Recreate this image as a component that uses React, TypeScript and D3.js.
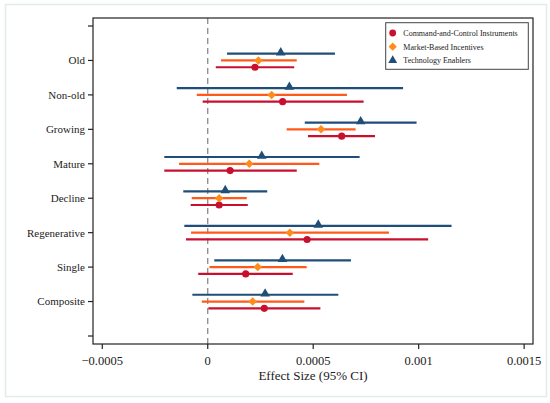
import React from "react";
import * as d3 from "d3";

const width = 550;
const height = 403;
const margin = { top: 18, right: 17, bottom: 59, left: 93 };

// categories from top to bottom
const categories = ["Old", "Non-old", "Growing", "Mature", "Decline", "Regenerative", "Single", "Composite"];

// point estimates and 95% CI per series
const cciEst = [0.000224, 0.000355, 0.000635, 0.000106, 0.000054, 0.000471, 0.00018, 0.000268];
const cciLo = [0.000038, -0.000024, 0.000475, -0.000206, -0.000081, -0.000103, -0.000045, 0.000003];
const cciHi = [0.00041, 0.000739, 0.000793, 0.000422, 0.00019, 0.001045, 0.000403, 0.000534];

const mbiEst = [0.00024, 0.000303, 0.000537, 0.000197, 0.000054, 0.000389, 0.000237, 0.000213];
const mbiLo = [0.000063, -0.000052, 0.000374, -0.000136, -0.000076, -0.000079, 0.000008, -0.000028];
const mbiHi = [0.000422, 0.00066, 0.000701, 0.000529, 0.000185, 0.000859, 0.000469, 0.000458];

const teEst = [0.000346, 0.000387, 0.000725, 0.000256, 0.000083, 0.000524, 0.000354, 0.000272];
const teLo = [0.0000915, -0.000147, 0.00046, -0.000206, -0.000116, -0.000111, 0.000031, -0.000073];
const teHi = [0.000603, 0.000926, 0.00099, 0.00072, 0.000282, 0.001156, 0.000679, 0.000619];

const xTicks = [-0.0005, 0, 0.0005, 0.001, 0.0015];
const xTickLabels = ["\u22120.0005", "0", "0.0005", "0.001", "0.0015"];

const series = [
  { name: "Command-and-Control Instruments", est: cciEst, lo: cciLo, hi: cciHi, line: "#c8102e", fill: "#c8102e", shape: "circle", offset: 6.8 },
  { name: "Market-Based Incentives", est: mbiEst, lo: mbiLo, hi: mbiHi, line: "#ff5a1a", fill: "#ff8c1a", shape: "diamond", offset: 0 },
  { name: "Technology Enablers", est: teEst, lo: teLo, hi: teHi, line: "#1f4e79", fill: "#1f4e79", shape: "triangle", offset: -6.8 },
];

const font = "Liberation Serif, DejaVu Serif, serif";

const symbolPath = (shape: string, size: number) => {
  const type = shape === "circle" ? d3.symbolCircle : shape === "diamond" ? d3.symbolSquare : d3.symbolTriangle;
  return d3.symbol().type(type).size(size)() || "";
};

const App: React.FC = () => {
  const innerW = width - margin.left - margin.right;
  const innerH = height - margin.top - margin.bottom;

  const x = d3.scaleLinear().domain([-0.000544, 0.001542]).range([margin.left, margin.left + innerW]);
  const y = d3.scaleLinear().domain([0, categories.length + 1]).range([margin.top + 8, margin.top + innerH - 8]);
  const yTicks = d3.range(0, categories.length + 2);

  const axisBottom = margin.top + innerH;

  return (
    <svg width={width} height={height} style={{ position: "absolute", left: 0, top: 0 }} fontFamily={font}>
      <rect x={0} y={0} width={width} height={height} fill="#ffffff" />
      <rect x={5.5} y={4.5} width={541} height={392} fill="#ffffff" stroke="#e3ecec" strokeWidth={1.5} />

      {/* zero reference line */}
      <line x1={x(0)} x2={x(0)} y1={margin.top} y2={axisBottom} stroke="#808080" strokeWidth={1.2} strokeDasharray="6,4" />

      {/* confidence intervals */}
      {series.map((s) => (
        <g key={s.name}>
          {categories.map((c, i) => {
            const cy = y(i + 1) + s.offset;
            return (
              <g key={c}>
                <line x1={x(s.lo[i])} x2={x(s.hi[i])} y1={cy} y2={cy} stroke={s.line} strokeWidth={2.2} />
                <path
                  d={symbolPath(s.shape, s.shape === "triangle" ? 40 : s.shape === "diamond" ? 36 : 40)}
                  transform={`translate(${x(s.est[i])},${cy - (s.shape === "triangle" ? 1 : 0)})${s.shape === "diamond" ? " rotate(45)" : ""}`}
                  fill={s.fill}
                />
              </g>
            );
          })}
        </g>
      ))}

      {/* plot frame */}
      <rect x={margin.left} y={margin.top} width={innerW} height={innerH} fill="none" stroke="#222" strokeWidth={1.2} />

      {/* y axis */}
      {yTicks.map((t) => (
        <g key={t}>
          <line x1={margin.left - 5} x2={margin.left} y1={y(t)} y2={y(t)} stroke="#222" strokeWidth={1.2} />
          {t >= 1 && t <= categories.length && (
            <text x={margin.left - 8} y={y(t)} dy="0.35em" textAnchor="end" fontSize={11} fill="#222" fontFamily={font}>
              {categories[t - 1]}
            </text>
          )}
        </g>
      ))}

      {/* x axis */}
      {xTicks.map((t, i) => (
        <g key={t}>
          <line x1={x(t)} x2={x(t)} y1={axisBottom} y2={axisBottom + 5} stroke="#222" strokeWidth={1.2} />
          <text x={x(t)} y={axisBottom + 17} dy="0.35em" textAnchor="middle" fontSize={12.5} fill="#222" fontFamily={font}>
            {xTickLabels[i]}
          </text>
        </g>
      ))}
      <text x={margin.left + innerW / 2 + 0} y={axisBottom + 31.5} dy="0.35em" textAnchor="middle" fontSize={13} fill="#222" fontFamily={font}>
        Effect Size (95% CI)
      </text>

      {/* legend */}
      <g>
        <rect x={385.7} y={22.7} width={142.6} height={46.6} fill="#ffffff" stroke="#444" strokeWidth={1} />
        {series.map((s, i) => {
          const ly = 33 + i * 13.7;
          return (
            <g key={s.name}>
              <path
                d={symbolPath(s.shape, s.shape === "triangle" ? 34 : s.shape === "diamond" ? 34 : 36)}
                transform={`translate(392.7,${ly})${s.shape === "diamond" ? " rotate(45)" : ""}`}
                fill={s.fill}
              />
              <text x={403.3} y={ly} dy="0.35em" fontSize={8} fill="#222" fontFamily={font}>
                {s.name}
              </text>
            </g>
          );
        })}
      </g>
    </svg>
  );
};

export default App;
